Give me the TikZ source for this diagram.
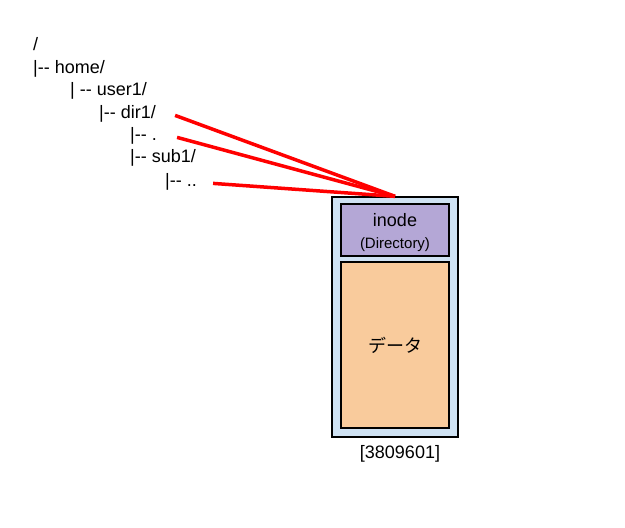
\documentclass[tikz,border=0pt]{standalone}
\usepackage{fontspec}
\setmainfont{Liberation Sans}
\newfontfamily\jpfont{Noto Sans CJK JP}
\usetikzlibrary{positioning}
\definecolor{framefill}{HTML}{CFE2F3}
\definecolor{inodefill}{HTML}{B4A7D6}
\definecolor{datafill}{HTML}{F9CB9C}
\definecolor{linkred}{HTML}{FF0000}
\newcommand{\dd}{{-}{-}}
\tikzset{
  treeline/.style={anchor=base west,inner sep=0pt,font=\fontsize{18}{21}\selectfont},
  blockbox/.style={draw,line width=1.3pt,inner sep=0pt},
  hardlink/.style={draw=linkred,line width=3.5pt}
}

\begin{document}
\begin{tikzpicture}[x=1pt,y=-1pt]
	\useasboundingbox (0,0) rectangle (625,528);
	% directory tree
	\node[treeline] (root) at (33,50) {/};
	\node[treeline] (home) at (33,73) {|\dd{} home/};
	\node[treeline] (user) at (70,95) {| \dd{} user1/};
	\node[treeline] (dir) at (99,118) {|\dd{} dir1/};
	\node[treeline] (dot) at (130,140) {|\dd{} .};
	\node[treeline] (sub) at (130,162) {|\dd{} sub1/};
	\node[treeline] (dotdot) at (165,186) {|\dd{} ..};
	% inode block
	\node[blockbox,fill=framefill,minimum width=126pt,minimum height=240pt] (block) at (395,317) {};
	\node[blockbox,fill=inodefill,minimum width=108pt,minimum height=52pt] (inode) at (395,230) {};
	\node[align=center,inner sep=0pt,font=\fontsize{18}{20}\selectfont] (inodetext) at ([yshift=-2.5pt]inode.center)
		{inode\\[2pt]{\fontsize{15}{17}\selectfont(Directory)}};
	\node[blockbox,fill=datafill,minimum width=108pt,minimum height=166pt,font=\fontsize{18}{20}\selectfont\jpfont] (data) at (395,345) {データ};
	\node[below=4pt of block,xshift=5pt,font=\fontsize{18}{21}\selectfont] (inum) {[3809601]};
	% links
	\draw[hardlink] ([xshift=19pt,yshift=-2pt]dir.east) -- (block.north);
	\draw[hardlink] ([xshift=20pt,yshift=-2pt]dot.east) -- (block.north);
	\draw[hardlink] ([xshift=16pt,yshift=-2pt]dotdot.east) -- (block.north);
\end{tikzpicture}
\end{document}
